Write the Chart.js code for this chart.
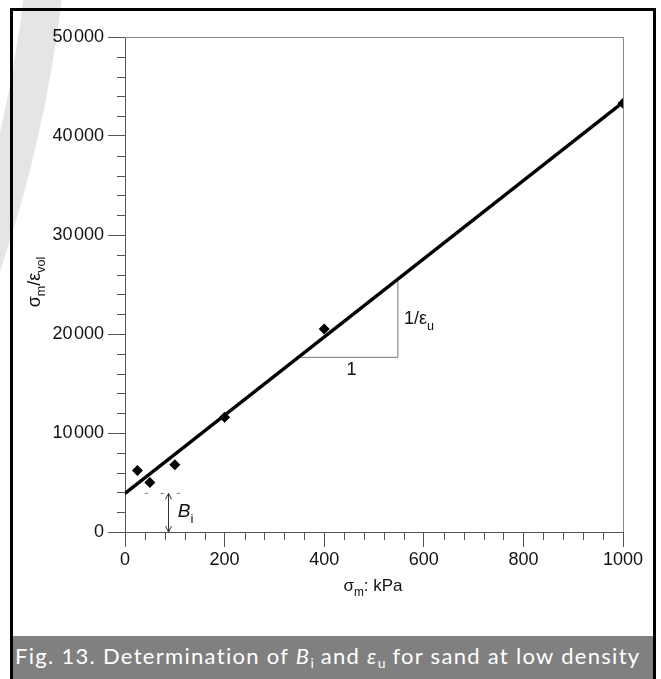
<!DOCTYPE html>
<html><head><meta charset="utf-8">
<script src="https://cdn.jsdelivr.net/npm/chart.js@4.4.1/dist/chart.umd.min.js"></script>
<style>
html,body{margin:0;padding:0;background:#fff;}
#wrap{position:relative;width:661px;height:679px;overflow:hidden;background:#fff;}
#c{position:absolute;left:0;top:0;}
#frame{position:absolute;left:10px;top:8px;width:640px;height:700px;border:3px solid #000;border-bottom:none;pointer-events:none;}
#cap{position:absolute;left:13px;top:636px;width:640px;height:43px;background:#808080;color:#fff;font-family:Lato,"Open Sans",sans-serif;font-size:22px;letter-spacing:1.3px;line-height:40px;padding-left:2px;white-space:nowrap;box-sizing:border-box;overflow:hidden;}
#cap sub{font-size:14px;vertical-align:baseline;position:relative;top:4px;letter-spacing:0;}
</style></head>
<body><div id="wrap">
<canvas id="c" width="661" height="679"></canvas>
<div id="frame"></div>
<div id="cap">Fig. 13. Determination of <i>B</i><sub>i</sub> and <i>ε</i><sub>u</sub> for sand at low density</div>
</div>
<script>
// ---- data ----
const pointX = [25, 50, 100, 200, 400, 1000];
const pointY = [6200, 5000, 6800, 11600, 20500, 43300];
const fitX = [0, 1000];
const fitY = [3900, 43400];
const slopeX = [353, 548, 548];
const slopeY = [17640, 17640, 25550];
const biDashX = [40, 125];
const biDashY = [3900, 3900];
const biArrowX = 86;
const xTicks = [0, 200, 400, 600, 800, 1000];
const yTicks = [0, 10000, 20000, 30000, 40000, 50000];
const xMinorStep = 40;
const yMinorStep = 2000;

const FONT = '"Liberation Sans", Arial, sans-serif';

function fmt(v){ return v === 0 ? '0' : String(v).replace(/(\d)(?=(\d{3})+$)/, '$1\u200A'); }

function richWidth(ctx, parts, size){
  let w = 0;
  for (const p of parts){
    ctx.font = (p.it ? 'italic ' : '') + (p.sub ? size*0.7 : size) + 'px ' + FONT;
    w += ctx.measureText(p.t).width;
  }
  return w;
}
function drawRich(ctx, parts, x, y, size){
  let cx = x;
  for (const p of parts){
    const s = p.sub ? size*0.7 : size;
    ctx.font = (p.it ? 'italic ' : '') + s + 'px ' + FONT;
    ctx.fillText(p.t, cx, y + (p.sub ? size*0.3 : 0));
    cx += ctx.measureText(p.t).width;
  }
}

const decor = {
  id: 'decor',
  beforeDraw(chart){
    const ctx = chart.ctx;
    ctx.save();
    ctx.strokeStyle = '#e5e5e5';
    ctx.lineWidth = 38;
    ctx.beginPath();
    ctx.arc(-1274, -160, 1326, 0, Math.PI/2);
    ctx.stroke();
    ctx.restore();
  },
  afterDatasetsDraw(chart){
    const ctx = chart.ctx, xs = chart.scales.x, ys = chart.scales.y, a = chart.chartArea;
    ctx.save();
    // frame top/right
    ctx.strokeStyle = '#888'; ctx.lineWidth = 1;
    ctx.beginPath();
    ctx.moveTo(a.left, Math.round(a.top)+0.5);
    ctx.lineTo(Math.round(a.right)+0.5, Math.round(a.top)+0.5);
    ctx.lineTo(Math.round(a.right)+0.5, a.bottom);
    ctx.stroke();
    // minor ticks
    ctx.strokeStyle = '#555';
    ctx.beginPath();
    for (let v = 0; v <= 50000; v += yMinorStep){
      if (v % 10000 === 0) continue;
      const py = Math.round(ys.getPixelForValue(v)) + 0.5;
      ctx.moveTo(a.left - 8, py); ctx.lineTo(a.left, py);
    }
    for (let v = 0; v <= 1000; v += xMinorStep){
      if (v % 200 === 0) continue;
      const px = Math.round(xs.getPixelForValue(v)) + 0.5;
      ctx.moveTo(px, a.bottom); ctx.lineTo(px, a.bottom + 8);
    }
    ctx.stroke();
    // Bi arrow
    const ax = Math.round(xs.getPixelForValue(biArrowX)) + 0.5;
    const y1 = ys.getPixelForValue(fitY[0]), y2 = ys.getPixelForValue(0);
    ctx.strokeStyle = '#333';
    ctx.beginPath();
    ctx.moveTo(ax, y1); ctx.lineTo(ax, y2);
    ctx.moveTo(ax - 3, y1 + 6); ctx.lineTo(ax, y1); ctx.lineTo(ax + 3, y1 + 6);
    ctx.moveTo(ax - 3, y2 - 6); ctx.lineTo(ax, y2); ctx.lineTo(ax + 3, y2 - 6);
    ctx.stroke();
    // text
    ctx.fillStyle = '#111';
    ctx.textBaseline = 'alphabetic';
    ctx.textAlign = 'left';
    drawRich(ctx, [{t:'B', it:true}, {t:'i', sub:true}], xs.getPixelForValue(106), ys.getPixelForValue(1500), 19);
    drawRich(ctx, [{t:'1/ε'}, {t:'u', sub:true}], xs.getPixelForValue(560), ys.getPixelForValue(21000), 18);
    ctx.font = '18px ' + FONT;
    ctx.textAlign = 'center';
    ctx.fillText('1', xs.getPixelForValue(455), ys.getPixelForValue(15900));
    ctx.textAlign = 'left';
    // x title
    const xt = [{t:'σ'}, {t:'m', sub:true}, {t:': kPa'}];
    const xw = richWidth(ctx, xt, 17);
    drawRich(ctx, xt, 373 - xw/2, 591, 17);
    // y title
    const yt = [{t:'σ'}, {t:'m', sub:true}, {t:'/ε'}, {t:'vol', sub:true}];
    const yw = richWidth(ctx, yt, 18);
    ctx.translate(40, 282);
    ctx.rotate(-Math.PI/2);
    drawRich(ctx, yt, -yw/2, 0, 18);
    ctx.restore();
  }
};

new Chart(document.getElementById('c'), {
  type: 'scatter',
  data: {
    datasets: [
      { data: pointX.map((x,i)=>({x, y: pointY[i]})), showLine:false, pointStyle:'rectRot', pointRadius:5.5, backgroundColor:'#000', borderColor:'#000', borderWidth:0 },
      { data: fitX.map((x,i)=>({x, y: fitY[i]})), showLine:true, borderColor:'#000', borderWidth:3.5, pointRadius:0 },
      { data: slopeX.map((x,i)=>({x, y: slopeY[i]})), showLine:true, borderColor:'#777', borderWidth:1, pointRadius:0 },
      { data: biDashX.map((x,i)=>({x, y: biDashY[i]})), showLine:true, borderColor:'#777', borderWidth:1, borderDash:[3,13], pointRadius:0 }
    ]
  },
  options: {
    responsive:false, animation:false, devicePixelRatio:1,
    layout:{padding:{left:0, right:38, top:37, bottom:0}},
    plugins:{legend:{display:false}, tooltip:{enabled:false}},
    scales:{
      x:{ type:'linear', min:0, max:1000,
        afterBuildTicks: s => { s.ticks = xTicks.map(v=>({value:v})); },
        afterFit: s => { s.height = 147; },
        ticks:{ font:{family:FONT, size:18}, color:'#111', padding:2, maxRotation:0, callback: v => String(v) },
        grid:{ drawOnChartArea:false, tickLength:15, color:'#555', lineWidth:1 },
        border:{ color:'#555', width:1 } },
      y:{ type:'linear', min:0, max:50000,
        afterBuildTicks: s => { s.ticks = yTicks.map(v=>({value:v})); },
        afterFit: s => { s.width = 125; },
        ticks:{ font:{family:FONT, size:18}, color:'#111', padding:4, callback: v => fmt(v) },
        grid:{ drawOnChartArea:false, tickLength:17, color:'#555', lineWidth:1 },
        border:{ color:'#555', width:1 } }
    }
  },
  plugins:[decor]
});
</script>
</body></html>
